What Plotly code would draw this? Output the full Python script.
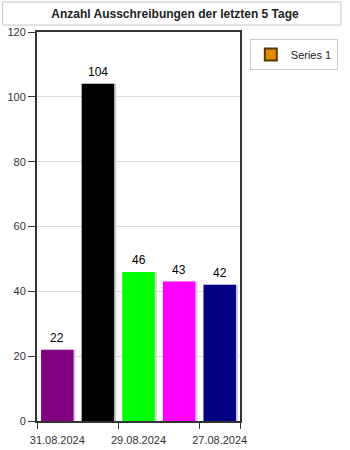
import plotly.graph_objects as go

categories = ["31.08.2024", "30.08.2024", "29.08.2024", "28.08.2024", "27.08.2024"]
values = [22, 104, 46, 43, 42]
bar_colors = ["#800080", "#000000", "#00ff00", "#ff00ff", "#000080"]
shadow_colors = ["#d8c8ec", "#c8c8d8", "#c8d8c8", "#e0c8e8", "#c8c8e0"]
y_ticks = [0, 20, 40, 60, 80, 100, 120]
series_name = "Series 1"
title = "Anzahl Ausschreibungen der letzten 5 Tage"

W, H = 350, 450
L, R, T, B = 37, 106, 32, 29
pw, ph = W - L - R, H - T - B

def px_x(p):
    return (p - L) / pw

def px_y(p):
    return (H - B - p) / ph

FONT = "Liberation Sans, Arial, sans-serif"
xs = list(range(len(categories)))

fig = go.Figure()
# subtle shadow
fig.add_trace(go.Bar(x=[x + 0.05 for x in xs], y=values, width=0.8,
                     marker=dict(color=shadow_colors, line=dict(width=0)),
                     showlegend=False, hoverinfo="skip"))
fig.add_trace(go.Bar(x=xs, y=values, width=0.8,
                     marker=dict(color=bar_colors, line=dict(width=0)),
                     showlegend=False))
fig.add_trace(go.Scatter(x=[None], y=[None], mode="markers", name=series_name,
                         marker=dict(symbol="square", size=10, color="#e08a00",
                                     line=dict(color="#5a3a00", width=1))))

for x, v in zip(xs, values):
    fig.add_annotation(x=x, y=v, text=str(v), showarrow=False, yanchor="bottom",
                       yshift=3, font=dict(family=FONT, size=12, color="#000"))

fig.update_layout(
    width=W, height=H,
    margin=dict(l=L, r=R, t=T, b=B),
    paper_bgcolor="white", plot_bgcolor="white",
    barmode="overlay",
    font=dict(family=FONT, size=11, color="#333"),
    title=dict(text="<b>" + title + "</b>", x=0.5, xanchor="center",
               y=1 - 14 / H, yanchor="middle",
               font=dict(family=FONT, size=12, color="#222")),
    showlegend=True,
    legend=dict(x=px_x(254), y=px_y(39), xanchor="left", yanchor="top",
                bgcolor="white", bordercolor="#cccccc", borderwidth=1,
                font=dict(family=FONT, size=11, color="#222"),
                itemsizing="constant", itemwidth=30),
    xaxis=dict(range=[-0.5, len(categories) - 0.5], tickmode="array",
               tickvals=xs[::2], ticktext=categories[::2], ticks="",
               ticklabelstandoff=8, automargin=False,
               showgrid=False, zeroline=False, showline=True, linecolor="#333",
               linewidth=2, mirror=True, tickfont=dict(size=11, color="#333")),
    xaxis2=dict(overlaying="x", range=[-0.5, len(categories) - 0.5], side="bottom",
                tickmode="array", tickvals=[-0.5, 1.5, 3.5, 4.5],
                ticktext=["", "", "", ""], ticks="outside", ticklen=7,
                tickcolor="#333", tickwidth=1, showgrid=False, zeroline=False,
                showline=False, automargin=False),
    yaxis=dict(range=[0, 120], tickmode="array", tickvals=y_ticks,
               ticks="outside", ticklen=7, tickcolor="#333", showgrid=True,
               gridcolor="#dddddd", zeroline=False, showline=True,
               linecolor="#333", linewidth=2, mirror=True, automargin=False,
               tickfont=dict(size=11, color="#333")),
)
fig.add_trace(go.Scatter(x=[None], y=[None], xaxis="x2", showlegend=False))

fig.add_shape(type="rect", xref="paper", yref="paper",
              x0=px_x(2), x1=px_x(347), y0=px_y(25), y1=px_y(2),
              line=dict(color="#c8c8c8", width=1), fillcolor="rgba(0,0,0,0)")

fig.write_html("out.html")
